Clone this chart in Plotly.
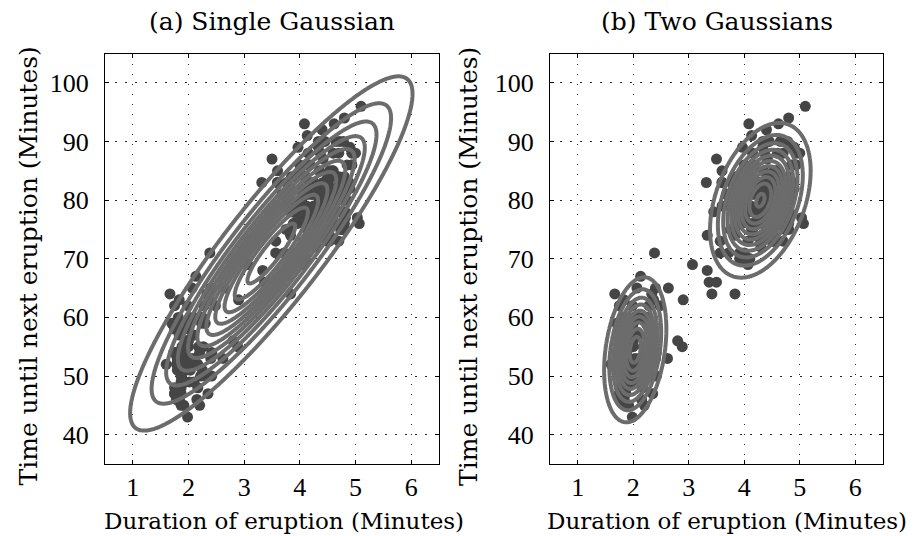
import numpy as np
import plotly.graph_objects as go

# Old Faithful eruptions: duration (minutes) and waiting time to next eruption (minutes)
eruptions = [
    3.600, 1.800, 3.333, 2.283, 4.533, 2.883, 4.700, 3.600, 1.950, 4.350, 1.833, 3.917, 4.200, 1.750, 4.700, 2.167,
    1.750, 4.800, 1.600, 4.250, 1.800, 1.750, 3.450, 3.067, 4.533, 3.600, 1.967, 4.083, 3.850, 4.433, 4.300, 4.467,
    3.367, 4.033, 3.833, 2.017, 1.867, 4.833, 1.833, 4.783, 4.350, 1.883, 4.567, 1.750, 4.533, 3.317, 3.833, 2.100,
    4.633, 2.000, 4.800, 4.716, 1.833, 4.833, 1.733, 4.883, 3.717, 1.667, 4.567, 4.317, 2.233, 4.500, 1.750, 4.800,
    1.817, 4.400, 4.167, 4.700, 2.067, 4.700, 4.033, 1.967, 4.500, 4.000, 1.983, 5.067, 2.017, 4.567, 3.883, 3.600,
    4.133, 4.333, 4.100, 2.633, 4.067, 4.933, 3.950, 4.517, 2.167, 4.000, 2.200, 4.333, 1.867, 4.817, 1.833, 4.300,
    4.667, 3.750, 1.867, 4.900, 2.483, 4.367, 2.100, 4.500, 4.050, 1.867, 4.700, 1.783, 4.850, 3.683, 4.733, 2.300,
    4.900, 4.417, 1.700, 4.633, 2.317, 4.600, 1.817, 4.417, 2.617, 4.067, 4.250, 1.967, 4.600, 3.767, 1.917, 4.500,
    2.267, 4.650, 1.867, 4.167, 2.800, 4.333, 1.833, 4.383, 1.883, 4.933, 2.033, 3.733, 4.233, 2.233, 4.533, 4.817,
    4.333, 1.983, 4.633, 2.017, 5.100, 1.800, 5.033, 4.000, 2.400, 4.600, 3.567, 4.000, 4.500, 4.083, 1.800, 3.967,
    2.200, 4.150, 2.000, 3.833, 3.500, 4.583, 2.367, 5.000, 1.933, 4.617, 1.917, 2.083, 4.583, 3.333, 4.167, 4.333,
    4.500, 2.417, 4.000, 4.167, 1.883, 4.583, 4.250, 3.767, 2.033, 4.433, 4.083, 1.833, 4.417, 2.183, 4.800, 1.833,
    4.800, 4.100, 3.966, 4.233, 3.500, 4.366, 2.250, 4.667, 2.100, 4.350, 4.133, 1.867, 4.600, 1.783, 4.367, 3.850,
    1.933, 4.500, 2.383, 4.700, 1.867, 3.833, 3.417, 4.233, 2.400, 4.800, 2.000, 4.150, 1.867, 4.267, 1.750, 4.483,
    4.000, 4.117, 4.083, 4.267, 3.917, 4.550, 4.083, 2.417, 4.183, 2.217, 4.450, 1.883, 1.850, 4.283, 3.950, 2.333,
    4.150, 2.350, 4.933, 2.900, 4.583, 3.833, 2.083, 4.367, 2.133, 4.350, 2.200, 4.450, 3.567, 4.500, 4.150, 3.817,
    3.917, 4.450, 2.000, 4.283, 4.767, 4.533, 1.850, 4.250, 1.983, 2.250, 4.750, 4.117, 2.150, 4.417, 1.817, 4.467,
]
waiting = [
    79, 54, 74, 62, 85, 55, 88, 85, 51, 85, 54, 84, 78, 47, 83, 52,
    62, 84, 52, 79, 51, 47, 78, 69, 74, 83, 55, 76, 78, 79, 73, 77,
    66, 80, 74, 52, 48, 80, 59, 90, 80, 58, 84, 58, 73, 83, 64, 53,
    82, 59, 75, 90, 54, 80, 54, 83, 71, 64, 77, 81, 59, 84, 48, 82,
    60, 92, 78, 78, 65, 73, 82, 56, 79, 71, 62, 76, 60, 78, 76, 83,
    75, 82, 70, 65, 73, 88, 76, 80, 48, 86, 60, 90, 50, 78, 63, 72,
    84, 75, 51, 82, 62, 88, 49, 83, 81, 47, 84, 52, 86, 81, 75, 59,
    89, 79, 59, 81, 50, 85, 59, 87, 53, 69, 77, 56, 88, 81, 45, 82,
    55, 90, 45, 83, 56, 89, 46, 82, 51, 86, 53, 79, 81, 60, 82, 77,
    76, 59, 80, 49, 96, 53, 77, 77, 65, 81, 71, 70, 81, 93, 53, 89,
    45, 86, 58, 78, 66, 76, 63, 88, 52, 93, 49, 57, 77, 68, 81, 81,
    73, 50, 85, 74, 55, 77, 83, 83, 51, 78, 84, 46, 83, 55, 81, 57,
    76, 84, 77, 81, 87, 77, 51, 78, 60, 82, 91, 53, 78, 46, 77, 84,
    49, 83, 71, 80, 49, 75, 64, 76, 53, 94, 55, 76, 50, 82, 54, 75,
    78, 79, 78, 78, 70, 79, 70, 54, 86, 50, 90, 54, 54, 77, 79, 64,
    75, 47, 86, 63, 85, 82, 57, 82, 67, 74, 54, 83, 73, 73, 88, 80,
    71, 83, 56, 79, 78, 84, 58, 83, 43, 60, 75, 81, 46, 90, 46, 74,
]

# Maximum-likelihood fits
single_mean = [3.488, 70.90]
single_cov = [[1.303, 13.978], [13.978, 184.82]]
mix_weights = [0.356, 0.644]
mix_means = [[2.036, 54.48], [4.290, 79.97]]
mix_covs = [[[0.0692, 0.4352], [0.4352, 33.70]],
            [[0.1700, 0.9406], [0.9406, 36.05]]]

# density levels drawn as contour lines
single_levels = dict(start=0.002, end=0.022, size=0.002)
mix_levels = dict(start=0.004, end=0.044, size=0.004)

panel_titles = ["(a) Single Gaussian", "(b) Two Gaussians"]
x_title = "Duration of eruption (Minutes)"
y_title = "Time until next eruption (Minutes)"
x_tickvals = [1, 2, 3, 4, 5, 6]
y_tickvals = [40, 50, 60, 70, 80, 90, 100]
x_range = [0.5, 6.5]
y_range = [35, 105]

W, H = 917, 536
POINT_COLOR = "#454545"
CONTOUR_COLOR = "#6c6c6c"
TEXT_FONT = "DejaVu Serif"
TICK_FONT = "Liberation Serif"


def gauss_pdf(X, Y, mean, cov):
    cov = np.asarray(cov, dtype=float)
    inv = np.linalg.inv(cov)
    det = np.linalg.det(cov)
    dx = X - mean[0]
    dy = Y - mean[1]
    q = inv[0, 0] * dx * dx + 2 * inv[0, 1] * dx * dy + inv[1, 1] * dy * dy
    return np.exp(-0.5 * q) / (2 * np.pi * np.sqrt(det))


gx = np.linspace(x_range[0], x_range[1], 360)
gy = np.linspace(y_range[0], y_range[1], 360)
GX, GY = np.meshgrid(gx, gy)
z_single = gauss_pdf(GX, GY, single_mean, single_cov)
z_mix = sum(w * gauss_pdf(GX, GY, m, c) for w, m, c in zip(mix_weights, mix_means, mix_covs))

fig = go.Figure()

for xa, ya in (("x", "y"), ("x2", "y2")):
    fig.add_trace(go.Scatter(
        x=eruptions, y=waiting, mode="markers", xaxis=xa, yaxis=ya,
        marker=dict(size=11, color=POINT_COLOR, line=dict(width=0)),
        showlegend=False, hoverinfo="skip"))

for (xa, ya), z, lv in ((("x3", "y3"), z_single, single_levels),
                        (("x4", "y4"), z_mix, mix_levels)):
    fig.add_trace(go.Contour(
        x=gx, y=gy, z=z, xaxis=xa, yaxis=ya,
        contours=dict(coloring="lines", showlabels=False, **lv),
        colorscale=[[0, CONTOUR_COLOR], [1, CONTOUR_COLOR]],
        line=dict(width=4, smoothing=1), showscale=False, hoverinfo="skip"))


def px_x(p):
    return p / W


def px_y(p):
    return 1 - p / H


left_dom = [px_x(105), px_x(439)]
right_dom = [px_x(550), px_x(883)]
y_dom = [px_y(464), px_y(53.5)]

axis_style = dict(
    showline=True, linecolor="black", linewidth=1.2, mirror="ticks",
    ticks="inside", ticklen=4, tickwidth=1, tickcolor="black",
    showgrid=True, gridcolor="rgba(0,0,0,0.85)", gridwidth=1, griddash="1.5px,8.5px",
    zeroline=False, tickfont=dict(family=TICK_FONT, size=26, color="black"),
)

hidden = dict(visible=False, showgrid=False, zeroline=False)

fig.update_layout(
    width=W, height=H, margin=dict(l=0, r=0, t=0, b=0),
    paper_bgcolor="white", plot_bgcolor="white", showlegend=False,
    xaxis=dict(domain=left_dom, range=x_range, tickvals=x_tickvals, anchor="y",
               ticklabelstandoff=0, **axis_style),
    yaxis=dict(domain=y_dom, range=y_range, tickvals=y_tickvals, anchor="x",
               ticklabelstandoff=10, **axis_style),
    xaxis2=dict(domain=right_dom, range=x_range, tickvals=x_tickvals, anchor="y2",
                ticklabelstandoff=0, **axis_style),
    yaxis2=dict(domain=y_dom, range=y_range, tickvals=y_tickvals, anchor="x2",
                ticklabelstandoff=10, **axis_style),
    xaxis3=dict(overlaying="x", range=x_range, anchor="y3", **hidden),
    yaxis3=dict(overlaying="y", range=y_range, anchor="x3", **hidden),
    xaxis4=dict(overlaying="x2", range=x_range, anchor="y4", **hidden),
    yaxis4=dict(overlaying="y2", range=y_range, anchor="x4", **hidden),
)

title_font = dict(family=TEXT_FONT, size=25, color="black")
xlabel_font = dict(family=TEXT_FONT, size=23, color="black")
annotations = [
    dict(text=panel_titles[0], x=px_x(272), y=px_y(21), font=title_font),
    dict(text=panel_titles[1], x=px_x(716.5), y=px_y(21), font=title_font),
    dict(text=x_title, x=px_x(284), y=px_y(521), font=xlabel_font),
    dict(text=x_title, x=px_x(727), y=px_y(521), font=xlabel_font),
    dict(text=y_title, x=px_x(28.5), y=px_y(266), textangle=-90, font=title_font),
    dict(text=y_title, x=px_x(469), y=px_y(266), textangle=-90, font=title_font),
]
for a in annotations:
    fig.add_annotation(xref="paper", yref="paper", xanchor="center", yanchor="middle",
                       showarrow=False, **a)

fig.write_html("out.html")
